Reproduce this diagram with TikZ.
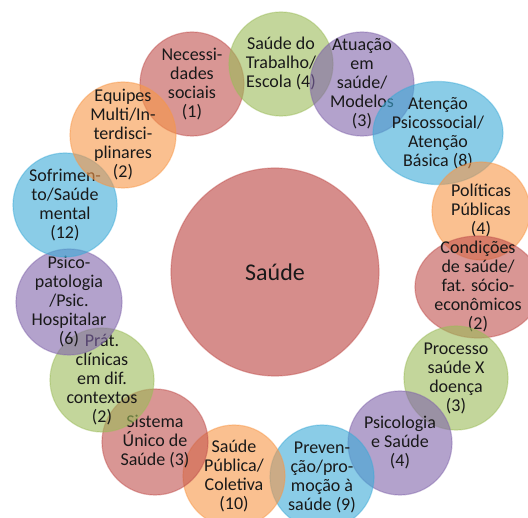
\documentclass[tikz,border=0pt]{standalone}
\usepackage{fontspec}
\setmainfont{Carlito}
\usetikzlibrary{shapes.geometric}

\definecolor{cRed}{RGB}{192,80,77}
\definecolor{cGreen}{RGB}{155,187,89}
\definecolor{cPurple}{RGB}{128,100,170}
\definecolor{cBlue}{RGB}{60,170,215}
\definecolor{cOrange}{RGB}{247,150,70}

\tikzset{
    bubble/.style={circle, minimum size=104pt, inner sep=0pt, fill=#1,
        fill opacity=0.6, draw=#1, draw opacity=0.45, line width=1.2pt},
    oval/.style={ellipse, inner sep=0pt, fill=#1, fill opacity=0.6,
        draw=#1, draw opacity=0.45, line width=1.2pt},
    topic/.style={align=center, inner sep=0pt, text=black!90,
        font=\fontsize{18}{19}\selectfont}
}

\begin{document}
\begin{tikzpicture}[x=1pt,y=-1pt]
    \useasboundingbox (0,0) rectangle (528,518);
    \clip (0,0) rectangle (528,518);
    % centre
    \node[bubble=cRed, minimum size=208pt, fill opacity=0.65] (saude) at (275,272) {};
    \node[topic, font=\fontsize{24}{28}\selectfont] (saude-t) at (saude) {Saúde};
    % ring, clockwise from the top left
    \node[bubble=cRed] (nec) at (192,84) {};
    \node[topic] (nec-t) at (nec) {Necessi-\\dades\\sociais\\(1)};
    \node[bubble=cGreen] (trab) at (281,64) {};
    \node[topic] (trab-t) at (trab) {Saúde do\\Trabalho/\\Escola (4)};
    \node[bubble=cPurple] (atua) at (362,84) {};
    \node[topic] (atua-t) at (atua) {Atuação\\em\\saúde/\\Modelos\\(3)};
    \node[oval=cBlue, minimum width=130pt, minimum height=103pt] (aten) at (438,133) {};
    \node[topic] (aten-t) at (aten) {Atenção\\Psicossocial/\\Atenção\\Básica (8)};
    \node[bubble=cOrange, minimum size=98pt] (pol) at (481,211) {};
    \node[topic] (pol-t) at (pol) {Políticas\\Públicas\\(4)};
    \node[oval=cRed, minimum width=126pt, minimum height=102pt] (cond) at (478,287) {};
    \node[topic] (cond-t) at (cond) {Condições\\de saúde/\\fat. sócio-\\econômicos\\(2)};
    \node[bubble=cGreen] (proc) at (456,378) {};
    \node[topic] (proc-t) at (proc) {Processo\\saúde X\\doença\\(3)};
    \node[bubble=cPurple] (psau) at (400,443) {};
    \node[topic] (psau-t) at (psau) {Psicologia\\e Saúde\\(4)};
    \node[bubble=cBlue] (prev) at (322,477) {};
    \node[topic] (prev-t) at (prev) {Preven-\\ção/pro-\\moção à\\saúde (9)};
    \node[bubble=cOrange, minimum size=102pt] (spub) at (234,476) {};
    \node[topic] (spub-t) at (spub) {Saúde\\Pública/\\Coletiva\\(10)};
    \node[bubble=cRed, minimum size=106pt] (sus) at (155,442) {};
    \node[topic] (sus-t) at (sus) {Sistema\\Único de\\Saúde (3)};
    \node[bubble=cGreen] (prat) at (102,380) {};
    \node[topic] (prat-t) at (prat) {Prát.\\clínicas\\em dif.\\contextos\\(2)};
    \node[bubble=cPurple, minimum size=106pt] (pato) at (69,302) {};
    \node[topic] (pato-t) at (pato) {Psico-\\patologia\\/Psic.\\Hospitalar\\(6)};
    \node[bubble=cBlue] (sofr) at (65,205) {};
    \node[topic] (sofr-t) at (sofr) {Sofrimen-\\to/Saúde\\mental\\(12)};
    \node[bubble=cOrange, minimum size=106pt] (equi) at (123,135) {};
    \node[topic] (equi-t) at (equi) {Equipes\\Multi/In-\\terdisci-\\plinares\\(2)};
\end{tikzpicture}
\end{document}
